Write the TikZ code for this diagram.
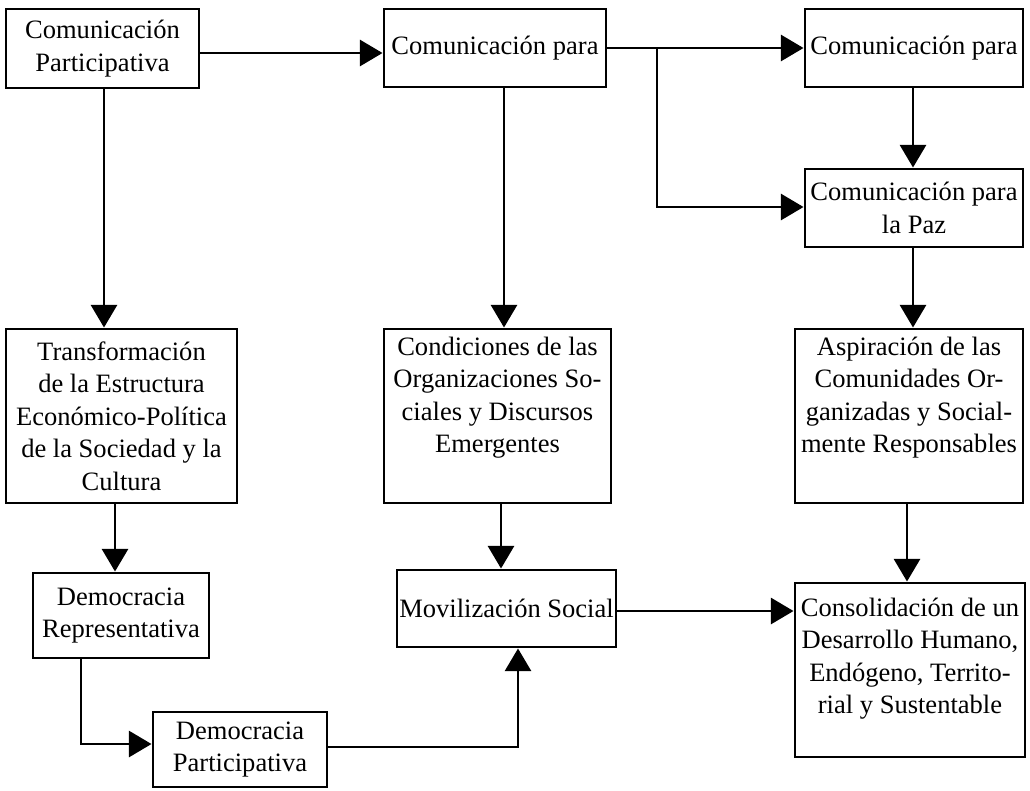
\documentclass[tikz,border=0pt]{standalone}
\usepackage{fontspec}
\setmainfont{Liberation Serif}
\usetikzlibrary{arrows.meta,fit,calc}
\begin{document}
\begin{tikzpicture}[x=0.75pt,y=-0.75pt,
  box/.style={draw,line width=2.2pt,inner sep=0pt},
  txt/.style={align=center,inner sep=0pt,font=\fontsize{19.9}{24.4}\selectfont},
  arr/.style={line width=2.2pt,-{Triangle[length=17pt,width=19.5pt]}}]
\useasboundingbox (0,0) rectangle (1030,790);
\clip (0,0) rectangle (1030,790);
% boxes
\node[box,fit={(6,9)(199,88)}] (b1) {};
\node[box,fit={(384,9)(606,87)}] (b2) {};
\node[box,fit={(805,9)(1023,87)}] (b3) {};
\node[box,fit={(805,169)(1023,247)}] (b4) {};
\node[box,fit={(6,329)(237,503)}] (b5) {};
\node[box,fit={(384,329)(611,503)}] (b6) {};
\node[box,fit={(795,329)(1023,503)}] (b7) {};
\node[box,fit={(33,573)(209,658)}] (b8) {};
\node[box,fit={(397,570)(616,647)}] (b9) {};
\node[box,fit={(795,583)(1025,757)}] (b10) {};
\node[box,fit={(153,712)(327,787)}] (b11) {};
% texts
\node[txt] (t1) at (b1.center) {Comunicación\\Participativa};
\node[txt] (t2) at (b2.center) {Comunicación para};
\node[txt] (t3) at (b3.center) {Comunicación para};
\node[txt] (t4) at (b4.center) {Comunicación para\\la Paz};
\node[txt] (t5) at (b5.center) {Transformación\\de la Estructura\\Económico-Política\\de la Sociedad y la\\Cultura};
\node[txt,anchor=north] (t6) at ($(b6.north)+(0,9)$) {Condiciones de las\\Organizaciones So-\\ciales y Discursos\\Emergentes};
\node[txt,anchor=north] (t7) at ($(b7.north)+(0,9)$) {Aspiración de las\\Comunidades Or-\\ganizadas y Social-\\mente Responsables};
\node[txt] (t8) at (b8.center) {Democracia\\Representativa};
\node[txt] (t9) at (b9.center) {Movilización Social};
\node[txt,anchor=north] (t10) at ($(b10.north)+(0,16)$) {Consolidación de un\\Desarrollo Humano,\\Endógeno, Territo-\\rial y Sustentable};
\node[txt] (t11) at (b11.center) {Democracia\\Participativa};
% helper coordinates
\coordinate (ya) at (0,53);
\coordinate (yb) at (0,48);
\coordinate (yc) at (0,207);
\coordinate (yd) at (0,611);
\coordinate (br) at (657,48);
\coordinate (xa) at (104,0);
\coordinate (xb) at (504,0);
\coordinate (xc) at (913,0);
\coordinate (xd) at (115,0);
\coordinate (xe) at (501,0);
\coordinate (xf) at (907,0);
\coordinate (c8) at (81,744);
\coordinate (c11) at (518,747);
% connectors
\draw[arr] (b1.east|-ya) -- (b2.west|-ya);
\draw[arr] (b2.east|-yb) -- (b3.west|-yb);
\draw[arr] (br) |- (b4.west|-yc);
\draw[arr] (b1.south-|xa) -- (b5.north-|xa);
\draw[arr] (b2.south-|xb) -- (b6.north-|xb);
\draw[arr] (b3.south-|xc) -- (b4.north-|xc);
\draw[arr] (b4.south-|xc) -- (b7.north-|xc);
\draw[arr] (b5.south-|xd) -- (b8.north-|xd);
\draw[arr] (b6.south-|xe) -- (b9.north-|xe);
\draw[arr] (b7.south-|xf) -- (b10.north-|xf);
\draw[arr] (b9.east|-yd) -- (b10.west|-yd);
\draw[arr] (b8.south-|c8) |- (b11.west|-c8);
\draw[arr] (b11.east|-c11) -| (b9.south-|c11);
\end{tikzpicture}
\end{document}
